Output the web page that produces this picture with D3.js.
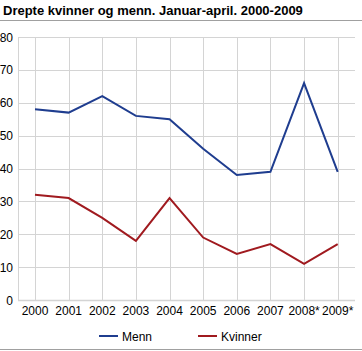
<!DOCTYPE html>
<html>
<head>
<meta charset="utf-8">
<script src="https://cdn.jsdelivr.net/npm/d3@7"></script>
<style>
  body { margin: 0; background: #fff; }
  text { font-family: "Liberation Sans", Arial, sans-serif; }
</style>
</head>
<body>
<svg id="chart" width="362" height="351"></svg>
<script>
// Data
const years = ["2000", "2001", "2002", "2003", "2004", "2005", "2006", "2007", "2008*", "2009*"];
const menn = [58, 57, 62, 56, 55, 46, 38, 39, 66, 39];
const kvinner = [32, 31, 25, 18, 31, 19, 14, 17, 11, 17];
const yTicks = [0, 10, 20, 30, 40, 50, 60, 70, 80];

const series = [
    { name: "Menn", values: menn, color: "#1f3d8f" },
    { name: "Kvinner", values: kvinner, color: "#a01a1f" }
];

const svg = d3.select("#chart");
const width = +svg.attr("width");

// Title
svg.append("text")
    .attr("x", 3)
    .attr("y", 15)
    .attr("font-size", "13px")
    .attr("font-weight", "bold")
    .attr("fill", "#000")
    .text("Drepte kvinner og menn. Januar-april. 2000-2009");

svg.append("line")
    .attr("x1", 0).attr("x2", width)
    .attr("y1", 20.5).attr("y2", 20.5)
    .attr("stroke", "#a0a0a0");

// Scales
const x = d3.scalePoint()
    .domain(years)
    .range([35, 337.7]);

const y = d3.scaleLinear()
    .domain([0, 80])
    .range([300, 37]);

const left = 18, right = 355;

// Grid
svg.append("g")
    .selectAll("line")
    .data(yTicks)
    .join("line")
    .attr("x1", left).attr("x2", right)
    .attr("y1", d => Math.round(y(d)) + 0.5)
    .attr("y2", d => Math.round(y(d)) + 0.5)
    .attr("stroke", "#d4d4d4")
    .attr("stroke-width", d => d === 0 ? 1.5 : 1);

svg.append("g")
    .selectAll("line")
    .data(years)
    .join("line")
    .attr("x1", d => Math.round(x(d)) + 0.5)
    .attr("x2", d => Math.round(x(d)) + 0.5)
    .attr("y1", y(80)).attr("y2", y(0))
    .attr("stroke", "#d4d4d4");

svg.append("line")
    .attr("x1", left + 0.5).attr("x2", left + 0.5)
    .attr("y1", y(80)).attr("y2", y(0))
    .attr("stroke", "#d4d4d4");

// Axis labels
svg.append("g")
    .selectAll("text")
    .data(yTicks)
    .join("text")
    .attr("x", 13)
    .attr("y", d => y(d) + 4.5)
    .attr("text-anchor", "end")
    .attr("font-size", "12px")
    .attr("fill", "#000")
    .text(d => d);

svg.append("g")
    .selectAll("text")
    .data(years)
    .join("text")
    .attr("x", d => x(d))
    .attr("y", 315)
    .attr("text-anchor", "middle")
    .attr("font-size", "12px")
    .attr("fill", "#000")
    .text(d => d);

// Lines
const line = d3.line()
    .x((d, i) => x(years[i]))
    .y(d => y(d));

svg.append("g")
    .selectAll("path")
    .data(series)
    .join("path")
    .attr("d", d => line(d.values))
    .attr("fill", "none")
    .attr("stroke", d => d.color)
    .attr("stroke-width", 2)
    .attr("stroke-linejoin", "miter");

// Legend
const legendX = [99, 198];
const legend = svg.append("g")
    .selectAll("g")
    .data(series)
    .join("g")
    .attr("transform", (d, i) => `translate(${legendX[i]},336)`);

legend.append("line")
    .attr("x1", 0).attr("x2", 19)
    .attr("y1", 0).attr("y2", 0)
    .attr("stroke", d => d.color)
    .attr("stroke-width", 2);

legend.append("text")
    .attr("x", 23)
    .attr("y", 4.5)
    .attr("font-size", "12px")
    .attr("fill", "#000")
    .text(d => d.name);

svg.append("line")
    .attr("x1", 0).attr("x2", width)
    .attr("y1", 349.5).attr("y2", 349.5)
    .attr("stroke", "#a0a0a0");
</script>
</body>
</html>
